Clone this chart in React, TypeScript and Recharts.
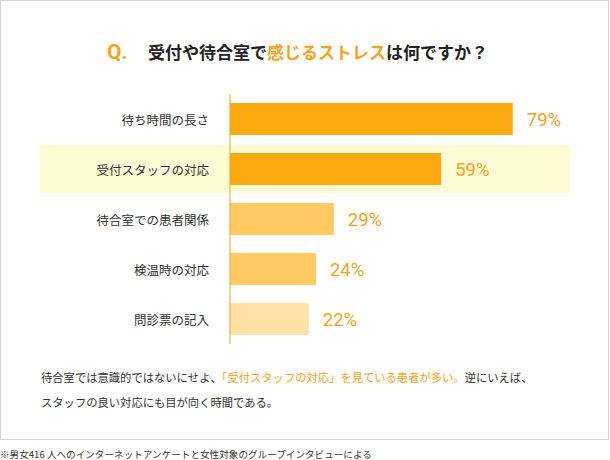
import { BarChart, Bar, XAxis, YAxis, Cell, LabelList } from 'recharts'

const categories = ['待ち時間の長さ', '受付スタッフの対応', '待合室での患者関係', '検温時の対応', '問診票の記入']
const percents = [79, 59, 29, 24, 22]
const highlightIndex = 1

const barColors = ['#fcaa10', '#fcaa10', '#ffc962', '#ffc962', '#ffe0a6']
const ORANGE = '#f7a21b'
const JP = '"Noto Sans CJK JP", "Noto Sans", sans-serif'

const data = categories.map((name, i) => ({ name, value: percents[i] }))

function CategoryTick({ x, y, payload }: any) {
  return (
    <text x={x - 1} y={y} textAnchor="end" dominantBaseline="central" fontSize={12.5} fill="#333" fontFamily={JP}>
      {payload.value}
    </text>
  )
}

// pale band behind the highlighted row, reaching into the label column
function RowBand(props: any) {
  if (props.index !== highlightIndex) return <g />
  const { x, y, width, height } = props
  return <rect x={x - 190} y={y - 8} width={width + 190} height={height + 16} fill="#fffcd5" />
}

export default function App() {
  return (
    <div style={{ position: 'absolute', left: 0, top: 0, width: 610, height: 460, background: '#fff', fontFamily: JP }}>
      <div
        style={{
          position: 'absolute',
          left: 0,
          top: 0,
          width: 609,
          height: 440,
          border: '1px solid #d4d4d4',
          boxSizing: 'border-box',
        }}
      />
      <div style={{ position: 'absolute', left: 107, top: 38, fontSize: 21, fontWeight: 700, color: ORANGE, lineHeight: '28px', fontFamily: 'Roboto, sans-serif' }}>
        Q.
      </div>
      <div style={{ position: 'absolute', left: 148, top: 40, fontSize: 17, fontWeight: 700, color: '#222', lineHeight: '24px', whiteSpace: 'nowrap' }}>
        受付や待合室で<span style={{ color: ORANGE }}>感じるストレス</span>は何ですか？
      </div>

      <div style={{ position: 'absolute', left: 0, top: 0 }}>
        <BarChart
          width={610}
          height={360}
          layout="vertical"
          data={data}
          margin={{ top: 94, right: 40, bottom: 16, left: 40 }}
          barCategoryGap={18}
        >
          <XAxis type="number" domain={[0, 95]} hide />
          <YAxis
            type="category"
            dataKey="name"
            width={190}
            axisLine={{ stroke: ORANGE, strokeWidth: 1 }}
            tickLine={false}
            tickSize={6}
            tickMargin={14}
            tick={<CategoryTick />}
          />
          <Bar dataKey="value" barSize={32} isAnimationActive={false} background={RowBand}>
            {data.map((d, i) => (
              <Cell key={d.name} fill={barColors[i]} />
            ))}
            <LabelList
              dataKey="value"
              position="right"
              offset={14}
              formatter={(v: any) => `${v}%`}
              style={{ fill: ORANGE, fontSize: 18.5, fontFamily: 'Roboto, sans-serif' }}
            />
          </Bar>
        </BarChart>
      </div>

      <div style={{ position: 'absolute', left: 41, top: 365, fontSize: 11.3, color: '#333', lineHeight: '25px', whiteSpace: 'nowrap' }}>
        <div>
          待合室では意識的ではないにせよ、<span style={{ color: ORANGE }}>「受付スタッフの対応」を見ている患者が多い。</span>逆にいえば、
        </div>
        <div>スタッフの良い対応にも目が向く時間である。</div>
      </div>

      <div style={{ position: 'absolute', left: 0, top: 447, fontSize: 9.6, color: '#333', lineHeight: '14px', whiteSpace: 'nowrap' }}>
        ※男女416 人へのインターネットアンケートと女性対象のグループインタビューによる
      </div>
    </div>
  )
}
